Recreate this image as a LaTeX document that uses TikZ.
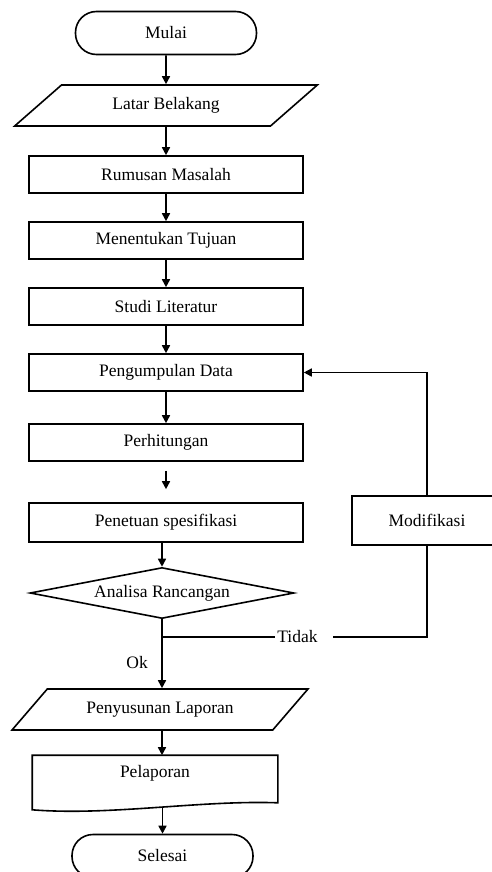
\documentclass[tikz,border=0pt]{standalone}
\usepackage{fontspec}
\setmainfont{Liberation Serif}
\usetikzlibrary{shapes.geometric, arrows.meta}

\begin{document}
\begin{tikzpicture}[x=1pt, y=-1pt, line width=1.6pt,
	font=\fontsize{17.5}{21}\selectfont,
	box/.style={draw=black, rectangle, minimum width=274pt, minimum height=37pt, inner sep=0pt},
	term/.style={draw=black, rectangle, rounded corners=21pt, minimum width=181pt, minimum height=43pt},
	io/.style={draw=black, trapezium, trapezium left angle=33.5, trapezium right angle=146.5, trapezium stretches=true, minimum width=303pt, minimum height=41pt, inner sep=0pt},
	cond/.style={draw=black, diamond, aspect=5.2, inner sep=0pt, minimum width=264pt, minimum height=51pt},
	arr/.style={-{Triangle[length=8pt, width=8pt]}}]
	\useasboundingbox (0,0) rectangle (491,872);
	\node[term] (mulai) at (166,33) {Mulai};
	\node[io] (latar) at (166,105.5) {Latar Belakang};
	\node[box] (rumusan) at (166,174.5) {Rumusan Masalah};
	\node[box] (tujuan) at (166,240.5) {Menentukan Tujuan};
	\node[box] (studi) at (166,306.5) {Studi Literatur};
	\node[box] (kumpul) at (166,372.5) {Pengumpulan Data};
	\node[box] (hitung) at (166,442.5) {Perhitungan};
	\node[box, minimum height=39pt] (spek) at (166,522.5) {Penetuan spesifikasi};
	\node[cond] (analisa) at (162,593) {Analisa Rancangan};
	\node[box, minimum width=150pt, minimum height=49pt] (modif) at (427,520.5) {Modifikasi};
	\node[inner sep=2pt] (tidak) at (297.5,637) {Tidak};
	\node[io, minimum width=296pt] (susun) at (160,709.5) {Penyusunan Laporan};
	\node[minimum width=244pt, minimum height=34pt, inner sep=0pt] (lapor) at (155,773) {Pelaporan};
	\node[term] (selesai) at (162.5,856) {Selesai};
	% bentuk dokumen
	\draw (lapor.north west) -- (lapor.north east) -- ([yshift=-12pt]lapor.south east)
	.. controls (200,800) and (110,816) .. ([yshift=-19pt]lapor.south west) -- cycle;
	\coordinate (gelombang) at (162.5,808);
	% alur utama
	\draw[arr] (mulai) -- (latar);
	\draw[arr] (latar) -- (rumusan);
	\draw[arr] (rumusan) -- (tujuan);
	\draw[arr] (tujuan) -- (studi);
	\draw[arr] (studi) -- (kumpul);
	\draw[arr] (kumpul) -- (hitung);
	\draw[arr, shorten <=9pt, shorten >=13pt] (hitung) -- (spek);
	\draw[arr] (spek.south -| analisa.north) -- (analisa.north);
	\draw[arr] (analisa.south) -- (analisa.south |- susun.north) node[pos=0.63, left=10pt] {Ok};
	\draw[arr] (analisa.south |- susun.south) -- (analisa.south |- lapor.north);
	\draw[arr] (gelombang) -- (selesai.north);
	% cabang tidak
	\draw (analisa.south |- tidak.west) -- (tidak.west);
	\draw ([xshift=13pt]tidak.east) -| (modif.south);
	\draw[arr] (modif.north) |- (kumpul.east);
\end{tikzpicture}
\end{document}
